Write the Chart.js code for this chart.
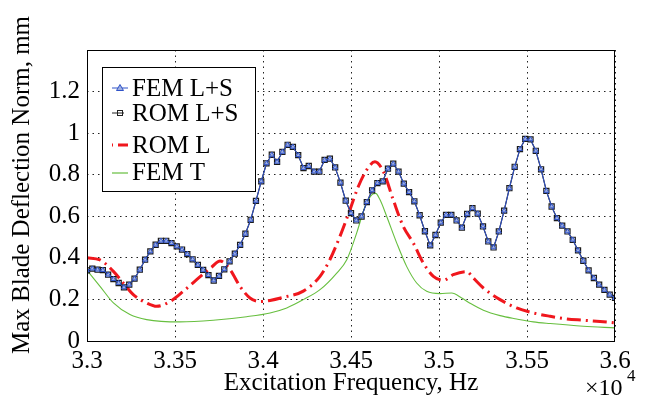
<!DOCTYPE html>
<html>
<head>
<meta charset="utf-8">
<script src="https://cdn.jsdelivr.net/npm/chart.js@4"></script>
<style>
  html, body { margin: 0; padding: 0; background: #fff; }
  #wrap { width: 651px; height: 403px; }
</style>
</head>
<body>
<div id="wrap"><canvas id="chart" width="651" height="403"></canvas></div>
<script>
// Frekvencije (Hz) za FEM/ROM L+S
const frekvencije = [
  33000,33030,33060,33090,33120,33150,33180,33210,33240,33270,
  33300,33330,33360,33390,33420,33450,33480,33510,33540,33570,
  33600,33630,33660,33690,33720,33750,33780,33810,33840,33870,
  33900,33930,33960,33990,34020,34050,34080,34110,34140,34170,
  34200,34230,34260,34290,34320,34350,34380,34410,34440,34470,
  34500,34530,34560,34590,34620,34650,34680,34710,34740,34770,
  34800,34830,34860,34890,34920,34950,34980,35010,35040,35070,
  35100,35130,35160,35190,35220,35250,35280,35310,35340,35370,
  35400,35430,35460,35490,35520,35550,35580,35610,35640,35670,
  35700,35730,35760,35790,35820,35850,35880,35910,35940,35970,
  36000
];

// FEM L+S i ROM L+S se poklapaju
const femLS = [
  0.340,0.348,0.343,0.341,0.319,0.298,0.279,0.258,0.271,0.300,
  0.343,0.391,0.431,0.463,0.482,0.482,0.471,0.455,0.440,0.418,
  0.393,0.366,0.342,0.317,0.291,0.313,0.345,0.383,0.420,0.462,
  0.516,0.583,0.674,0.768,0.855,0.896,0.862,0.910,0.944,0.934,
  0.894,0.832,0.842,0.815,0.815,0.871,0.877,0.835,0.762,0.675,
  0.615,0.580,0.599,0.668,0.725,0.760,0.768,0.829,0.853,0.815,
  0.757,0.716,0.672,0.605,0.528,0.460,0.510,0.570,0.607,0.607,
  0.580,0.545,0.611,0.639,0.613,0.551,0.479,0.450,0.527,0.627,
  0.735,0.838,0.923,0.972,0.970,0.915,0.826,0.722,0.647,0.591,
  0.555,0.527,0.487,0.436,0.386,0.340,0.303,0.271,0.246,0.223,
  0.207
];
const romLS = femLS.slice();

// ROM L (linearni)
const romLFrek = [33000,33074,33150,33206,33263,33339,33396,33472,33547,33623,33709,33756,33813,33869,33926,33983,34040,34115,34229,34324,34380,34437,34494,34541,34589,34636,34684,34740,34797,34854,34911,34968,35024,35081,35157,35195,35252,35347,35441,35536,35631,35726,35820,35915,36000];
const romL = [0.400,0.390,0.335,0.279,0.223,0.183,0.167,0.190,0.239,0.295,0.356,0.385,0.343,0.263,0.207,0.190,0.195,0.210,0.240,0.311,0.391,0.503,0.631,0.742,0.823,0.862,0.815,0.679,0.551,0.471,0.375,0.311,0.292,0.319,0.334,0.303,0.255,0.199,0.159,0.135,0.119,0.106,0.100,0.094,0.087];

// FEM T
const femTFrek = [33000,33074,33150,33244,33339,33528,33717,33907,34040,34135,34229,34324,34419,34476,34532,34580,34618,34640,34665,34703,34760,34816,34873,34930,35006,35072,35129,35176,35252,35347,35441,35536,35631,35820,36000];
const femT = [0.340,0.263,0.183,0.127,0.103,0.092,0.100,0.117,0.135,0.159,0.199,0.247,0.327,0.391,0.519,0.647,0.703,0.710,0.679,0.599,0.471,0.359,0.279,0.239,0.228,0.231,0.207,0.182,0.148,0.122,0.106,0.092,0.084,0.071,0.063];

const xTicks = [33000,33500,34000,34500,35000,35500,36000];
const nazivi = ['FEM L+S','ROM L+S','ROM L','FEM T'];

const FONT = '"Liberation Serif", "DejaVu Serif", serif';
const parovi = (xs, ys) => xs.map((x, i) => ({ x: x, y: ys[i] }));

// Okvir, naslovi osa i legenda
const dekor = {
  id: 'dekor',
  afterDraw(chart) {
    const ctx = chart.ctx;
    const a = chart.chartArea;
    ctx.save();
    ctx.strokeStyle = '#000';
    ctx.lineWidth = 1;
    ctx.setLineDash([]);
    ctx.strokeRect(a.left + 0.5, a.top + 0.5, a.right - a.left - 1, a.bottom - a.top);

    ctx.fillStyle = '#000';
    ctx.textAlign = 'center';
    ctx.textBaseline = 'middle';
    ctx.font = '25px ' + FONT;
    ctx.fillText('Excitation Frequency, Hz', 351, 383);

    ctx.save();
    ctx.translate(22, 185);
    ctx.rotate(-Math.PI / 2);
    ctx.fillText('Max Blade Deflection Norm, mm', 0, 0);
    ctx.restore();

    ctx.textAlign = 'left';
    ctx.textBaseline = 'alphabetic';
    ctx.font = '24px ' + FONT;
    ctx.fillText('\u00d710', 585, 395);
    ctx.font = '17px ' + FONT;
    ctx.fillText('4', 627, 381);

    // legenda
    ctx.fillStyle = '#fff';
    ctx.fillRect(102, 67, 154, 125);
    ctx.strokeStyle = '#000';
    ctx.strokeRect(102.5, 67.5, 153, 124);

    const redovi = [88, 113, 145, 172];
    redovi.forEach((y, k) => {
      ctx.save();
      if (k === 0) {
        ctx.strokeStyle = '#2f52c8'; ctx.lineWidth = 1;
        ctx.beginPath(); ctx.moveTo(112, y); ctx.lineTo(128, y); ctx.stroke();
        ctx.beginPath(); ctx.moveTo(120, y - 3.5); ctx.lineTo(123.5, y + 2.5); ctx.lineTo(116.5, y + 2.5); ctx.closePath();
        ctx.fillStyle = '#9fb0e0'; ctx.fill(); ctx.stroke();
      } else if (k === 1) {
        ctx.strokeStyle = '#222'; ctx.lineWidth = 1;
        ctx.beginPath(); ctx.moveTo(112, y); ctx.lineTo(124, y); ctx.stroke();
        ctx.strokeRect(117.5, y - 2.5, 5, 5);
      } else if (k === 2) {
        ctx.strokeStyle = '#f0171d'; ctx.lineWidth = 3;
        ctx.setLineDash([1, 5, 12, 3]);
        ctx.beginPath(); ctx.moveTo(112, y); ctx.lineTo(128, y); ctx.stroke();
      } else {
        ctx.strokeStyle = '#67bf3f'; ctx.lineWidth = 1.2;
        ctx.beginPath(); ctx.moveTo(112, y + 1); ctx.lineTo(128, y + 1); ctx.stroke();
      }
      ctx.restore();
      ctx.fillStyle = '#000';
      ctx.font = '25px ' + FONT;
      ctx.textBaseline = 'middle';
      ctx.fillText(nazivi[k], 132, y + 1);
    });
    ctx.restore();
  }
};

new Chart(document.getElementById('chart'), {
  type: 'line',
  data: {
    datasets: [
      {
        label: nazivi[0],
        data: parovi(frekvencije, femLS),
        borderColor: '#2f52c8',
        borderWidth: 1,
        pointStyle: 'triangle',
        pointRadius: 2.8,
        pointBorderWidth: 1,
        pointBorderColor: '#2f52c8',
        pointBackgroundColor: '#9fb0e0',
        order: 0
      },
      {
        label: nazivi[1],
        data: parovi(frekvencije, romLS),
        borderColor: '#1a1a2a',
        borderWidth: 1.2,
        pointStyle: 'rect',
        pointRadius: 3.6,
        pointBorderWidth: 1.2,
        pointBorderColor: '#1a1a1a',
        pointBackgroundColor: 'rgba(0,0,0,0)',
        order: 1
      },
      {
        label: nazivi[2],
        data: parovi(romLFrek, romL),
        borderColor: '#f0171d',
        borderWidth: 3,
        borderDash: [14, 5, 2, 5],
        pointRadius: 0,
        cubicInterpolationMode: 'monotone',
        order: 2
      },
      {
        label: nazivi[3],
        data: parovi(femTFrek, femT),
        borderColor: '#67bf3f',
        borderWidth: 1.1,
        pointRadius: 0,
        cubicInterpolationMode: 'monotone',
        order: 3
      }
    ]
  },
  options: {
    responsive: false,
    animation: false,
    layout: { padding: { left: 0, top: 50, right: 36, bottom: 0 } },
    plugins: { legend: { display: false }, tooltip: { enabled: false } },
    scales: {
      x: {
        type: 'linear',
        min: 33000,
        max: 36000,
        afterFit: s => { s.height = 62; },
        afterBuildTicks: s => { s.ticks = xTicks.map(v => ({ value: v })); },
        ticks: {
          autoSkip: false,
          maxRotation: 0,
          padding: 5,
          color: '#000',
          font: { family: FONT, size: 25 },
          callback: v => String(Number((v / 1e4).toFixed(2)))
        },
        grid: { color: '#222', lineWidth: 1, drawTicks: false },
        border: { display: false, dash: [1.5, 4] }
      },
      y: {
        min: 0,
        max: 1.4,
        afterFit: s => { s.width = 87; },
        ticks: {
          stepSize: 0.2,
          padding: 7,
          color: '#000',
          font: { family: FONT, size: 25 },
          callback: v => (v > 1.3 ? '' : String(Number(v.toFixed(1))))
        },
        grid: { color: '#222', lineWidth: 1, drawTicks: false },
        border: { display: false, dash: [1.5, 4] }
      }
    }
  },
  plugins: [dekor]
});
</script>
</body>
</html>
